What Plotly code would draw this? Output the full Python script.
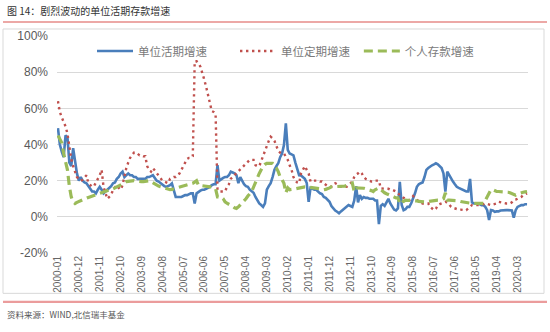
import plotly.graph_objects as go

# ---------------- data (monthly, %) ----------------
START_YEAR = 2000
N_MONTHS = 248  # 2000-01 .. 2020-08
months = [f"{START_YEAR + i // 12}-{i % 12 + 1:02d}" for i in range(N_MONTHS)]

tick_labels = ["2000-01", "2000-12", "2001-11", "2002-10", "2003-09", "2004-08",
               "2005-07", "2006-06", "2007-05", "2008-04", "2009-03", "2010-02",
               "2011-01", "2011-12", "2012-11", "2013-10", "2014-09", "2015-08",
               "2016-07", "2017-06", "2018-05", "2019-04", "2020-03"]

y_ticks = [-20, 0, 20, 40, 60, 80, 100]

series_names = ["单位活期增速", "单位定期增速", "个人存款增速"]

demand_corp = [  # 单位活期增速
    49, 40, 36, 33, 45, 44, 30, 28, 38, 30, 24, 20,
    22, 20, 19, 18.6, 17, 15, 14, 14, 13, 15, 16.6, 15,
    13, 14, 15, 16, 17, 18.6, 19, 21, 22, 24, 25, 22,
    23, 24, 23, 23, 22, 22, 21, 21, 21, 21, 21, 22,
    22, 22.5, 23, 21.5, 20, 19.5, 18.6, 18, 17, 16.6, 17, 17.5,
    18.5, 14, 11, 11, 11, 11, 11.5, 12, 12, 12.5, 13, 13,
    7.4, 13, 14, 14.5, 15, 15, 15.5, 16, 16.6, 17.5, 18, 18,
    28.6, 20, 21, 21.5, 22, 22, 23, 25, 24.5, 24, 23, 18.6,
    22, 19.5, 18, 17, 16.6, 15, 14, 13.3, 11, 9.2, 7.4, 6.5,
    5.5, 7.4, 15, 17, 18.6, 22, 26, 28, 29.6, 33, 35, 39.7,
    51.7, 37, 35, 34.5, 34, 30, 26, 23, 22.9, 22, 21, 18.7,
    8.3, 16, 15.5, 15, 15, 14, 13, 12.6, 11, 10.5, 9.5, 8.3,
    6, 4.6, 3.5, 2.8, 2, 3, 4, 4.6, 5.5, 6.5, 6, 5.5,
    9, 17, 8, 12, 10, 11, 10.5, 10.5, 10, 10, 10, 9,
    9, -4, 6, 7, 6, 8, 10, 7.4, 5.5, 4, 3.5, 4.6,
    19.4, 6.5, 3.7, 4.2, 5.5, 5.5, 7.5, 10, 13, 16.6, 18, 18.6,
    19, 22, 26, 27, 28, 28.5, 29, 29.6, 29, 28, 27, 24,
    14, 25, 23, 21, 19.5, 18, 16.6, 16, 15.5, 15, 14.5, 14,
    14, 21, 8, 7.4, 7.4, 7.4, 7, 6.5, 6.5, 5.5, 3.7, -1.8,
    3.7, 3.5, 2.8, 3, 3, 3.5, 3.7, 3.7, 3.7, 3.7, 3.7, 3.5,
    -0.5, 3.7, 5.5, 6, 6.5, 6.5, 7, 7,
]

time_corp = [  # 单位定期增速
    64, 58, 55, 52.6, 50, 46, 38, 32, 28, 25, 22, 21,
    20, 20.5, 21.5, 23, 18.6, 17.5, 16.6, 17, 19.5, 21, 23, 26,
    16.6, 13.3, 10, 11, 12, 15, 16, 17.5, 16, 15, 17.5, 23,
    27, 30, 32.6, 34, 35.5, 35.7, 35, 34, 34, 33.5, 33.5, 28,
    26, 25, 27, 25.5, 24, 22.5, 21, 20, 19.5, 19, 18.6, 21,
    21.5, 22, 22, 23, 24, 26, 28, 29.6, 32, 32.6, 32.6, 33.5,
    86, 86, 85, 83, 80, 76, 72, 67, 62, 58.5, 58, 57,
    15, 14, 14, 14, 14, 16.6, 18, 21, 22, 23, 24, 25,
    26, 27, 28, 29.5, 30.5, 31.5, 31.5, 31.5, 28.6, 28, 28, 31,
    34, 37, 39.7, 42, 44.3, 43.5, 42, 39, 36.5, 35.5, 35, 35,
    33, 31.5, 28.5, 26, 22, 20, 19, 18.6, 24, 26, 28, 26,
    24, 19.5, 20, 20, 20, 20, 19.5, 19.5, 18.5, 17.5, 17, 16.6,
    16.6, 17.5, 18.6, 18, 17, 16.6, 16.6, 16.6, 16.6, 17.5, 18.6, 19.5,
    22, 23.5, 24, 25, 24, 22, 21, 20.5, 20, 19.5, 19.5, 20,
    20, 20, 15.7, 15.7, 15.7, 15.7, 15.5, 15, 15, 14.5, 14, 13,
    12, 11.5, 10.5, 10, 9.5, 9.2, 10, 11.5, 10.5, 9.2, 8.5, 8,
    7.4, 7.4, 7.4, 7.4, 5.5, 4.6, 3.7, 4.5, 6.5, 7, 7.4, 7.8,
    8.3, 8, 6.5, 5.5, 5, 4.6, 4.2, 4, 4, 3.7, 3.7, 3.7,
    4.5, 5.5, 6.5, 6.5, 6.5, 6.5, 6.5, 6.5, 7, 7.4, 7.2, 6.8,
    6.5, 6.8, 7.2, 7.4, 8.3, 8, 7.6, 7.4, 7.4, 7.4, 7.4, 8,
    9.2, 9.5, 10, 10.5, 11, 12, 12.5, 13,
]

household = [  # 个人存款增速
    45, 43, 41, 35, 30, 26, 17, 11, 8.3, 7.4, 8, 8.5,
    9.2, 9.5, 10, 10.3, 10.7, 11, 11.4, 11.8, 12.2, 12.6, 13, 13.3,
    13.6, 14, 14.4, 14.7, 15, 15.5, 16, 16.5, 17, 17.5, 18, 18.8,
    19.5, 19.7, 19.8, 20, 20, 19.8, 19.6, 19.5, 19.5, 19.5, 19.7, 19.8,
    20, 19.5, 18.8, 18.2, 17.5, 17, 16.6, 16.2, 16, 15.6, 15.2, 15,
    15.2, 15.5, 15.8, 16, 16.4, 16.8, 17.2, 17.5, 17.8, 18, 18.3, 18.6,
    19.2, 20, 17.5, 17.3, 17, 16.8, 16.6, 16.6, 16.6, 16.5, 16, 15.5,
    11, 11, 11, 10, 8.3, 7.5, 7, 6.5, 5.8, 5, 4.6, 5.5,
    6.5, 7.5, 8.7, 10, 11.5, 13, 14, 16.5, 18.6, 21.5, 24, 26,
    28, 29, 29.6, 29.6, 29.6, 29.6, 28, 27, 25, 22, 20.5, 18.5,
    13.3, 16, 15, 15, 15.3, 15.5, 15.8, 16, 16.2, 16.4, 16.6, 16.6,
    16.5, 16.4, 16.2, 16, 16, 15.8, 15.5, 15.3, 15, 15.2, 15.5, 16,
    16.6, 16.6, 16.6, 16.6, 16.6, 16.6, 16.8, 17, 17.3, 17.5, 18, 18.6,
    14, 16, 16, 16, 16, 15.8, 15.5, 15, 14.8, 14.5, 14, 15,
    15.5, 16, 15, 14, 13.3, 12.8, 12.3, 12, 11.5, 11, 10.5, 10.5,
    7.4, 9, 8.5, 9.2, 9.2, 9.2, 9.2, 9.2, 9, 8.8, 8.5, 8.3,
    8.3, 8.3, 8.3, 8.5, 8.8, 9, 9.2, 9.2, 9.2, 9.2, 9.5, 10,
    13.3, 9.2, 9.2, 9.2, 9.2, 9.2, 9, 8.8, 8.5, 8.3, 8, 7.8,
    7.4, 7.4, 7.4, 7.4, 7.4, 7.4, 7.4, 7.4, 7.4, 9, 11, 13,
    15, 15, 14.5, 14, 14, 14, 14, 14, 14, 13.6, 13.3, 13,
    12.5, 12, 12.5, 13, 13.3, 13.6, 13.8, 14,
]

# ---------------- figure ----------------
W, H = 550, 332
PLOT_L, PLOT_R, PLOT_T, PLOT_B = 57, 528, 36, 252.7
PW, PH = PLOT_R - PLOT_L, PLOT_B - PLOT_T


def px(x):
    return (x - PLOT_L) / PW


def py(y):
    return (PLOT_B - y) / PH


# extra gaps between legend entries
PADS = ["\u3000\u3000", "\u2004", ""]

fig = go.Figure()
fig.add_trace(go.Scatter(x=months, y=demand_corp, mode="lines", name=series_names[0] + PADS[0],
                         line=dict(color="#4a7ebb", width=2.6)))
fig.add_trace(go.Scatter(x=months, y=time_corp, mode="lines", name=series_names[1] + PADS[1],
                         line=dict(color="#c0504d", width=2.4, dash="2.4px,3.6px")))
fig.add_trace(go.Scatter(x=months, y=household, mode="lines", name=series_names[2] + PADS[2],
                         line=dict(color="#9bbb59", width=3.2, dash="9px,5px")))

GRAY = "#595959"
fig.update_layout(
    width=W, height=H,
    margin=dict(l=PLOT_L, r=W - PLOT_R, t=PLOT_T, b=H - PLOT_B),
    paper_bgcolor="white", plot_bgcolor="white",
    font=dict(family="Noto Sans CJK SC, Liberation Sans, sans-serif", color=GRAY),
    showlegend=True,
    legend=dict(orientation="h", x=px(286), xanchor="center", y=py(51), yanchor="middle",
                font=dict(size=11.5, color="#7a7a7a"), bgcolor="rgba(0,0,0,0)",
                itemwidth=36, tracegroupgap=0),
    xaxis=dict(type="category", range=[-0.5, N_MONTHS - 0.5],
               tickmode="array", tickvals=tick_labels, ticktext=tick_labels,
               tickangle=-90, tickfont=dict(size=10, color="#666666",
                                            family="Liberation Sans, sans-serif"),
               showgrid=False, showline=False, zeroline=False, ticks=""),
    yaxis=dict(range=[-20, 100], tickmode="array", tickvals=y_ticks,
               ticktext=[f"{v}%" for v in y_ticks], ticklabelstandoff=8,
               tickfont=dict(size=12, color=GRAY, family="Liberation Sans, sans-serif"),
               showgrid=True, gridcolor="#d9d9d9", gridwidth=1,
               zeroline=False, showline=False, ticks=""),
)

# chart frame, title rule, footer rule
fig.add_shape(type="rect", xref="paper", yref="paper", layer="below",
              x0=px(3), x1=px(544), y0=py(293), y1=py(29),
              line=dict(color="#d9d9d9", width=1))
fig.add_shape(type="line", xref="paper", yref="paper",
              x0=px(3), x1=px(547), y0=py(22), y1=py(22),
              line=dict(color="#d9534f", width=1.2))
fig.add_shape(type="line", xref="paper", yref="paper",
              x0=px(3), x1=px(547), y0=py(301.5), y1=py(301.5),
              line=dict(color="#eb9c9c", width=2.2))

fig.add_annotation(text="图 14：剧烈波动的单位活期存款增速", xref="paper", yref="paper",
                   x=px(5), y=py(11), xanchor="left", yanchor="middle", showarrow=False,
                   font=dict(size=10, color="#333333", family="Noto Sans CJK SC"))
fig.add_annotation(text="资料来源：WIND,北信瑞丰基金", xref="paper", yref="paper",
                   x=px(5), y=py(314), xanchor="left", yanchor="middle", showarrow=False,
                   font=dict(size=8.5, color="#555555", family="Noto Sans CJK SC"))

fig.write_html("out.html")
